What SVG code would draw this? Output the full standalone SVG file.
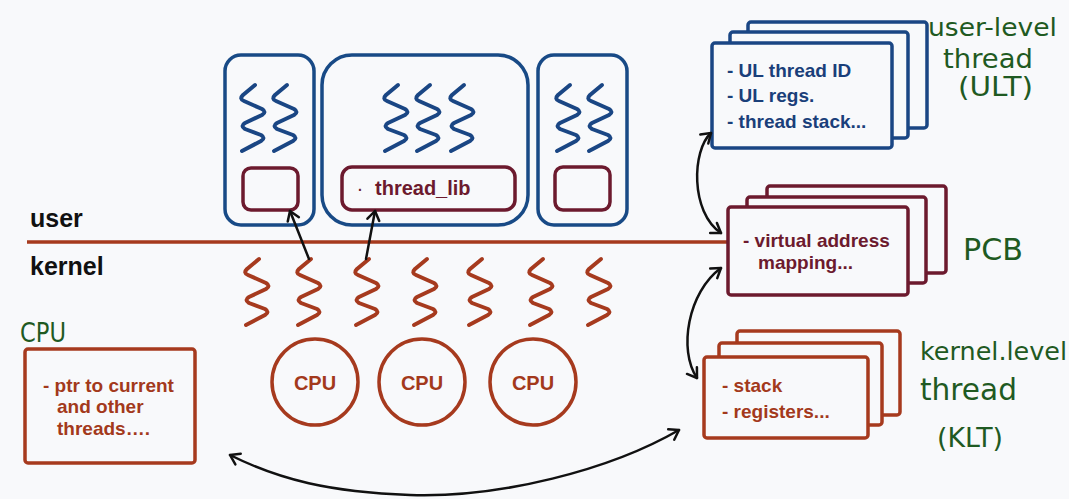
<svg xmlns="http://www.w3.org/2000/svg" width="1069" height="499" viewBox="0 0 1069 499">
<style>
.bg{fill:#f8f9fb}
.pbox{fill:none;stroke:#184a86;stroke-width:3.5}
.mbox{fill:#f8f9fb;stroke:#6c1a2e;stroke-width:3.5}
.ubox{fill:#f8f9fb;stroke:#1a4684;stroke-width:3.5}
.kbox{fill:#f8f9fb;stroke:#a63a1e;stroke-width:3.5}
.bsq{fill:none;stroke:#1a4684;stroke-width:4;stroke-linecap:round;stroke-linejoin:round}
.rsq{fill:none;stroke:#a63a1e;stroke-width:4;stroke-linecap:round;stroke-linejoin:round}
.cpu{fill:none;stroke:#a63a1e;stroke-width:3.5}
.t{font-family:"Liberation Sans",Arial,sans-serif;font-weight:bold}
.tb{fill:#1a3f7a;font-size:19px}
.tm{fill:#6c1a2e;font-size:19px}
.tr{fill:#a3391c;font-size:19px}
.hw{font-family:"DejaVu Sans","Liberation Sans",sans-serif;fill:#1f5a22;font-weight:normal}
.con{fill:none;stroke:#111;stroke-width:2.5;stroke-linecap:round}
</style>
<defs>
<path id="sq" d="M16,1 L4,11 Q0,15 5,17 L23,25 Q28,28 23,31 L6,39 Q1,42 6,45 L22,51 Q27,54 22,57 L3,67"/>
<marker id="ah" markerUnits="userSpaceOnUse" markerWidth="16" markerHeight="16" refX="12" refY="8" orient="auto-start-reverse">
<path d="M3,2 L12,8 L3,14" fill="none" stroke="#111" stroke-width="2.5" stroke-linecap="round" stroke-linejoin="round"/>
</marker>
</defs>
<rect class="bg" width="1069" height="499"/>

<g id="process1">
<rect class="pbox" x="225" y="55" width="89" height="170" rx="16"/>
<use href="#sq" class="bsq" x="239" y="84"/>
<use href="#sq" class="bsq" x="271" y="84"/>
<rect class="mbox" x="243" y="168" width="55" height="42" rx="8"/>
</g>
<g id="process2">
<rect class="pbox" x="322" y="55" width="206" height="170" rx="30"/>
<use href="#sq" class="bsq" x="382" y="84"/>
<use href="#sq" class="bsq" x="414" y="84"/>
<use href="#sq" class="bsq" x="448" y="84"/>
<rect class="mbox" x="342" y="167" width="173" height="43" rx="10"/>
<text class="t" x="358" y="195" fill="#6c1a2e" font-size="14">·</text>
<text class="t" x="375" y="195" fill="#6c1a2e" font-size="20">thread_lib</text>
</g>
<g id="process3">
<rect class="pbox" x="538" y="55" width="89" height="170" rx="16"/>
<use href="#sq" class="bsq" x="554" y="84"/>
<use href="#sq" class="bsq" x="586" y="84"/>
<rect class="mbox" x="555" y="167" width="55" height="43" rx="8"/>
</g>

<g id="boundary">
<line x1="27" y1="242" x2="729" y2="242" stroke="#a63a1e" stroke-width="3.5"/>
<text class="t" x="30" y="227" font-size="25" fill="#111">user</text>
<text class="t" x="30" y="275" font-size="25" fill="#111">kernel</text>
</g>

<g id="kernel-threads">
<use href="#sq" class="rsq" x="243" y="258"/>
<use href="#sq" class="rsq" x="295" y="258"/>
<use href="#sq" class="rsq" x="353" y="258"/>
<use href="#sq" class="rsq" x="411" y="258"/>
<use href="#sq" class="rsq" x="466" y="258"/>
<use href="#sq" class="rsq" x="527" y="258"/>
<use href="#sq" class="rsq" x="585" y="258"/>
</g>

<g id="cpus">
<circle class="cpu" cx="315" cy="382" r="43"/>
<circle class="cpu" cx="422" cy="382" r="43"/>
<circle class="cpu" cx="533" cy="382" r="43"/>
<text class="t" x="315" y="390" font-size="20" fill="#a3391c" text-anchor="middle">CPU</text>
<text class="t" x="422" y="390" font-size="20" fill="#a3391c" text-anchor="middle">CPU</text>
<text class="t" x="533" y="390" font-size="20" fill="#a3391c" text-anchor="middle">CPU</text>
</g>

<g id="cpu-struct">
<text class="hw" x="20" y="342" font-size="26" textLength="46" lengthAdjust="spacingAndGlyphs">CPU</text>
<rect class="kbox" x="25" y="349" width="170" height="114" rx="3"/>
<text class="t tr" x="43" y="392">- ptr to current</text>
<text class="t tr" x="57" y="413">and other</text>
<text class="t tr" x="57" y="435">threads….</text>
</g>

<g id="ult">
<rect class="ubox" x="748" y="22" width="179" height="106" rx="3"/>
<rect class="ubox" x="730" y="32" width="178" height="106" rx="3"/>
<rect class="ubox" x="712" y="43" width="180" height="105" rx="3"/>
<text class="t tb" x="727" y="77">- UL thread ID</text>
<text class="t tb" x="727" y="102">- UL regs.</text>
<text class="t tb" x="727" y="128">- thread stack...</text>
<text class="hw" x="928" y="36" font-size="25" textLength="129" lengthAdjust="spacingAndGlyphs">user-level</text>
<text class="hw" x="943" y="68" font-size="27" textLength="90" lengthAdjust="spacingAndGlyphs">thread</text>
<text class="hw" x="958" y="96" font-size="26" textLength="75" lengthAdjust="spacingAndGlyphs">(ULT)</text>
</g>

<g id="pcb">
<rect class="mbox" x="767" y="186" width="179" height="87" rx="3"/>
<rect class="mbox" x="747" y="197" width="179" height="86" rx="3"/>
<rect class="mbox" x="728" y="207" width="180" height="88" rx="3"/>
<text class="t tm" x="743" y="247">- virtual address</text>
<text class="t tm" x="758" y="269">mapping...</text>
<text class="hw" x="963" y="260" font-size="30" textLength="60" lengthAdjust="spacingAndGlyphs">PCB</text>
</g>

<g id="klt">
<rect class="kbox" x="737" y="331" width="163" height="84" rx="3"/>
<rect class="kbox" x="719" y="343" width="163" height="82" rx="3"/>
<rect class="kbox" x="704" y="357" width="164" height="81" rx="3"/>
<text class="t tr" x="722" y="392">- stack</text>
<text class="t tr" x="722" y="418">- registers...</text>
<text class="hw" x="920" y="360" font-size="25" textLength="147" lengthAdjust="spacingAndGlyphs">kernel.level</text>
<text class="hw" x="920" y="400" font-size="30" textLength="97" lengthAdjust="spacingAndGlyphs">thread</text>
<text class="hw" x="937" y="447" font-size="26" textLength="66" lengthAdjust="spacingAndGlyphs">(KLT)</text>
</g>

<g id="connectors">
<path class="con" d="M309,259 L290,211" marker-end="url(#ah)"/>
<path class="con" d="M366,259 L375,211" marker-end="url(#ah)"/>
<path class="con" d="M711,133 C692,150 690,212 721,233" marker-start="url(#ah)" marker-end="url(#ah)"/>
<path class="con" d="M721,268 C688,292 678,350 697,378" marker-start="url(#ah)" marker-end="url(#ah)"/>
<path class="con" d="M230,455 C280,480 330,492 410,495 C500,498 610,470 679,430" marker-start="url(#ah)" marker-end="url(#ah)"/>
</g>
</svg>
